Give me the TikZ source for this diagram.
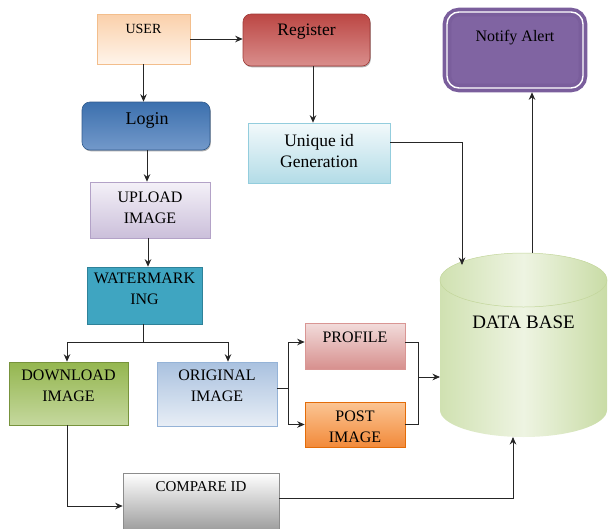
\documentclass[tikz,border=0pt]{standalone}
\usepackage{fontspec}
\setmainfont{Liberation Serif}
\usetikzlibrary{arrows.meta,shadows}
\definecolor{userTop}{HTML}{FAD0AA}
\definecolor{userBot}{HTML}{FFF4EA}
\definecolor{userLine}{HTML}{F3BE8C}
\definecolor{regTop}{HTML}{BC4744}
\definecolor{regBot}{HTML}{D98E8C}
\definecolor{regLine}{HTML}{9E3A37}
\definecolor{logTop}{HTML}{3C70AE}
\definecolor{logBot}{HTML}{7399CA}
\definecolor{logLine}{HTML}{325C8E}
\definecolor{uniTop}{HTML}{F2F9FB}
\definecolor{uniBot}{HTML}{B3DCE7}
\definecolor{uniLine}{HTML}{93CDDD}
\definecolor{upTop}{HTML}{F4F1F8}
\definecolor{upBot}{HTML}{CBBFDA}
\definecolor{upLine}{HTML}{B3A2C7}
\definecolor{watTop}{HTML}{3FA5C1}
\definecolor{watMid}{HTML}{7CC6DA}
\definecolor{watBot}{HTML}{3FA5C1}
\definecolor{watLine}{HTML}{2E8299}
\definecolor{dowTop}{HTML}{94B64F}
\definecolor{dowBot}{HTML}{C5D89E}
\definecolor{dowLine}{HTML}{77933C}
\definecolor{oriTop}{HTML}{A9C1DF}
\definecolor{oriBot}{HTML}{E8EEF6}
\definecolor{oriLine}{HTML}{95B3D7}
\definecolor{proTop}{HTML}{F2DCDB}
\definecolor{proBot}{HTML}{D7908E}
\definecolor{proLine}{HTML}{D99694}
\definecolor{posTop}{HTML}{FBC594}
\definecolor{posBot}{HTML}{F28A3A}
\definecolor{posLine}{HTML}{E36C09}
\definecolor{comTop}{HTML}{FFFFFF}
\definecolor{comBot}{HTML}{9C9C9C}
\definecolor{comLine}{HTML}{8C8C8C}
\definecolor{dbSide}{HTML}{D0E1B1}
\definecolor{dbSide2}{HTML}{C9DCA6}
\definecolor{dbLight}{HTML}{EEF4E2}
\definecolor{dbLine}{HTML}{C3D69B}
\definecolor{notFill}{HTML}{8064A2}
\definecolor{notLine}{HTML}{7A5E9C}
\begin{document}
\begin{tikzpicture}[x=1pt,y=-1pt,
  box/.style={rectangle, inner sep=0pt, line width=0.6pt,
    drop shadow={shadow xshift=0.8pt, shadow yshift=-1.3pt, opacity=0.45, fill=black!70}},
  rbox/.style={box, rounded corners=8pt},
  txt/.style={inner sep=0pt, align=center, text=black},
  t16/.style={txt, font=\fontsize{16}{21}\selectfont},
  con/.style={line width=0.8pt, draw=black!85},
  arr/.style={con, -{Stealth[length=7.5pt,width=6.5pt]}},
]
\useasboundingbox (0,0) rectangle (608,528);

% boxes
\node[box, draw=userLine, top color=userTop, bottom color=userBot, minimum width=93pt, minimum height=50pt] (user) at (143.5,39) {};
\node[txt, font=\fontsize{14}{16}\selectfont] (userT) at (143.5,29) {USER};

\node[rbox, draw=regLine, top color=regTop, bottom color=regBot, minimum width=127pt, minimum height=52pt] (register) at (306.5,40) {};
\node[txt, font=\fontsize{17.5}{20}\selectfont] (registerT) at (306.5,32) {Register};

\node[rounded corners=12pt, fill=notFill, draw=notLine, line width=3.6pt, double=white, double distance=1.4pt, inner sep=0pt, outer sep=4.3pt, minimum width=136pt, minimum height=76pt] (notify) at (515,50) {};
\node[txt, font=\fontsize{16}{18}\selectfont] (notifyT) at (515,38) {Notify Alert};

\node[rbox, draw=logLine, top color=logTop, bottom color=logBot, minimum width=128pt, minimum height=48pt] (login) at (146,126) {};
\node[txt, font=\fontsize{18}{21}\selectfont] (loginT) at (147,120) {Login};

\node[box, draw=uniLine, top color=uniTop, bottom color=uniBot, minimum width=142pt, minimum height=60pt] (unique) at (319,153) {};
\node[txt, font=\fontsize{17.5}{21}\selectfont] (uniqueT) at (319,151) {Unique id\\Generation};

\node[box, draw=upLine, top color=upTop, bottom color=upBot, minimum width=120pt, minimum height=56pt] (upload) at (150,210) {};
\node[t16] (uploadT) at (150,208) {UPLOAD\\IMAGE};

\node[box, draw=watLine, top color=watTop, middle color=watMid, bottom color=watBot, minimum width=115pt, minimum height=57pt] (water) at (144.5,295.5) {};
\node[t16] (waterT) at (144.5,289) {WATERMARK\\ING};

\node[box, draw=dowLine, top color=dowTop, bottom color=dowBot, minimum width=119pt, minimum height=63pt] (download) at (68.5,393.5) {};
\node[t16] (downloadT) at (68.5,386) {DOWNLOAD\\IMAGE};

\node[box, draw=oriLine, top color=oriTop, bottom color=oriBot, minimum width=120pt, minimum height=64pt] (original) at (217,394) {};
\node[t16] (originalT) at (217,386) {ORIGINAL\\IMAGE};

\node[box, draw=proLine, top color=proTop, bottom color=proBot, minimum width=100pt, minimum height=46pt] (profile) at (355,346) {};
\node[t16] (profileT) at (355,337.5) {PROFILE};

\node[box, draw=posLine, top color=posTop, bottom color=posBot, minimum width=100pt, minimum height=45pt] (post) at (355,424.5) {};
\node[t16] (postT) at (355,427) {POST\\IMAGE};

\node[box, draw=comLine, top color=comTop, bottom color=comBot, minimum width=156pt, minimum height=58pt] (compare) at (201,502) {};
\node[txt, font=\fontsize{15}{18}\selectfont] (compareT) at (201,487) {COMPARE ID};

% database cylinder
\shade[left color=dbSide, right color=dbSide2, middle color=dbLight]
  (440,280) -- (440,410)
  arc[start angle=180, end angle=360, x radius=83.5pt, y radius=27pt]
  -- (607,280)
  arc[start angle=0, end angle=180, x radius=83.5pt, y radius=27pt] -- cycle;
\draw[dbLine, line width=0.5pt] (523.5,280) ellipse [x radius=83.5pt, y radius=27pt];
\node[txt, font=\fontsize{19}{21}\selectfont] (db) at (523.5,322) {DATA BASE};
\coordinate (dbLeft) at (440,377);
\coordinate (dbTopIn) at (462,265);
\coordinate (dbTop) at (532,253);
\coordinate (dbBottom) at (513,437);

% connectors
\draw[arr] (user.east) -- (user.east -| register.west);
\draw[arr] (user.south) -- (user.south |- login.north);
\draw[arr] ([xshift=6.5pt]register.south) -- ([xshift=6.5pt]register.south |- unique.north);
\draw[arr] ([xshift=1pt]login.south) -- ([xshift=1pt]login.south |- upload.north);
\draw[arr] ([xshift=-2pt]upload.south) -- ([xshift=-2pt]upload.south |- water.north);
\coordinate (split) at (143.5,342);
\draw[con] (split |- water.south) -- (split);
\draw[arr] (split) -| ([xshift=-1.5pt]download.north);
\draw[arr] (split) -| ([xshift=11pt]original.north);
\coordinate (ob) at (288,388);
\draw[con] ([yshift=6pt]original.east) -- (ob);
\draw[arr] (ob) |- ([yshift=4pt]profile.west);
\draw[arr] (ob) |- (post.west);
\coordinate (pb) at (418,377);
\draw[con] ([yshift=4pt]profile.east) -| (pb);
\draw[con] (post.east) -| (pb);
\draw[arr] (pb) -- (dbLeft);
\draw[arr] ([yshift=11pt]unique.east) -| (dbTopIn);
\draw[arr] (dbTop) -- (dbTop |- notify.south);
\draw[arr] ([xshift=-1.5pt]download.south) |- ([yshift=-4pt]compare.west);
\draw[arr] ([yshift=4pt]compare.east) -| (dbBottom);
\end{tikzpicture}
\end{document}
